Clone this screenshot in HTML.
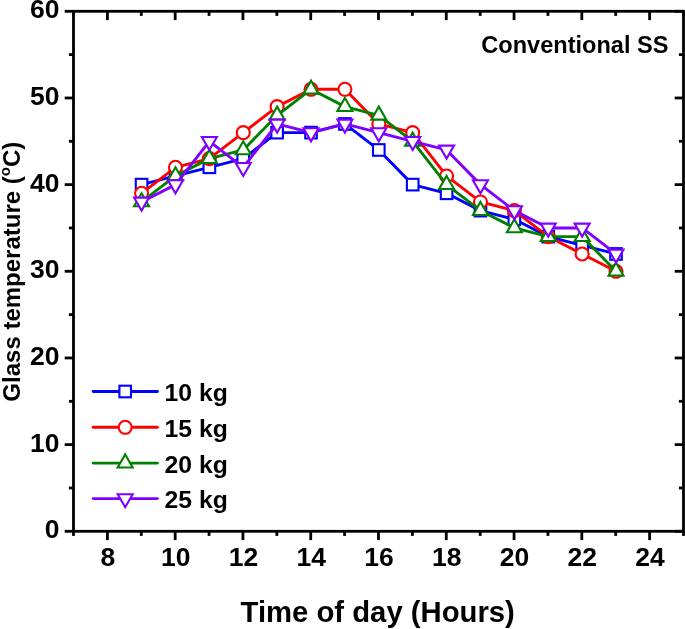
<!DOCTYPE html>
<html><head><meta charset="utf-8"><style>
html,body{margin:0;padding:0;background:#fff;}
body{width:685px;height:629px;overflow:hidden;}
svg{display:block;will-change:transform;}
text{font-family:"Liberation Sans",sans-serif;font-weight:bold;fill:#000;}
</style></head><body>
<svg width="685" height="629" viewBox="0 0 685 629">
<g>
<polyline points="141.58,184.63 175.47,175.97 209.36,167.30 243.24,158.63 277.13,132.63 311.02,132.63 344.91,123.97 378.80,149.97 412.69,184.63 446.58,193.30 480.47,210.63 514.36,219.30 548.24,236.63 582.13,245.30 616.02,253.97" fill="none" stroke="#0000FF" stroke-width="2.9" stroke-linejoin="round" stroke-linecap="round"/>
<rect x="135.78" y="178.83" width="11.6" height="11.6" fill="#fff" stroke="#0000FF" stroke-width="2.1"/>
<rect x="169.67" y="170.17" width="11.6" height="11.6" fill="#fff" stroke="#0000FF" stroke-width="2.1"/>
<rect x="203.56" y="161.50" width="11.6" height="11.6" fill="#fff" stroke="#0000FF" stroke-width="2.1"/>
<rect x="237.44" y="152.83" width="11.6" height="11.6" fill="#fff" stroke="#0000FF" stroke-width="2.1"/>
<rect x="271.33" y="126.83" width="11.6" height="11.6" fill="#fff" stroke="#0000FF" stroke-width="2.1"/>
<rect x="305.22" y="126.83" width="11.6" height="11.6" fill="#fff" stroke="#0000FF" stroke-width="2.1"/>
<rect x="339.11" y="118.17" width="11.6" height="11.6" fill="#fff" stroke="#0000FF" stroke-width="2.1"/>
<rect x="373.00" y="144.17" width="11.6" height="11.6" fill="#fff" stroke="#0000FF" stroke-width="2.1"/>
<rect x="406.89" y="178.83" width="11.6" height="11.6" fill="#fff" stroke="#0000FF" stroke-width="2.1"/>
<rect x="440.78" y="187.50" width="11.6" height="11.6" fill="#fff" stroke="#0000FF" stroke-width="2.1"/>
<rect x="474.67" y="204.83" width="11.6" height="11.6" fill="#fff" stroke="#0000FF" stroke-width="2.1"/>
<rect x="508.56" y="213.50" width="11.6" height="11.6" fill="#fff" stroke="#0000FF" stroke-width="2.1"/>
<rect x="542.44" y="230.83" width="11.6" height="11.6" fill="#fff" stroke="#0000FF" stroke-width="2.1"/>
<rect x="576.33" y="239.50" width="11.6" height="11.6" fill="#fff" stroke="#0000FF" stroke-width="2.1"/>
<rect x="610.22" y="248.17" width="11.6" height="11.6" fill="#fff" stroke="#0000FF" stroke-width="2.1"/>
<polyline points="141.58,193.30 175.47,167.30 209.36,158.63 243.24,132.63 277.13,106.63 311.02,89.30 344.91,89.30 378.80,123.97 412.69,132.63 446.58,175.97 480.47,201.97 514.36,210.63 548.24,236.63 582.13,253.97 616.02,271.30" fill="none" stroke="#FF0000" stroke-width="2.9" stroke-linejoin="round" stroke-linecap="round"/>
<circle cx="141.58" cy="193.30" r="6.5" fill="#fff" stroke="#FF0000" stroke-width="2.1"/>
<circle cx="175.47" cy="167.30" r="6.5" fill="#fff" stroke="#FF0000" stroke-width="2.1"/>
<circle cx="209.36" cy="158.63" r="6.5" fill="#fff" stroke="#FF0000" stroke-width="2.1"/>
<circle cx="243.24" cy="132.63" r="6.5" fill="#fff" stroke="#FF0000" stroke-width="2.1"/>
<circle cx="277.13" cy="106.63" r="6.5" fill="#fff" stroke="#FF0000" stroke-width="2.1"/>
<circle cx="311.02" cy="89.30" r="6.5" fill="#fff" stroke="#FF0000" stroke-width="2.1"/>
<circle cx="344.91" cy="89.30" r="6.5" fill="#fff" stroke="#FF0000" stroke-width="2.1"/>
<circle cx="378.80" cy="123.97" r="6.5" fill="#fff" stroke="#FF0000" stroke-width="2.1"/>
<circle cx="412.69" cy="132.63" r="6.5" fill="#fff" stroke="#FF0000" stroke-width="2.1"/>
<circle cx="446.58" cy="175.97" r="6.5" fill="#fff" stroke="#FF0000" stroke-width="2.1"/>
<circle cx="480.47" cy="201.97" r="6.5" fill="#fff" stroke="#FF0000" stroke-width="2.1"/>
<circle cx="514.36" cy="210.63" r="6.5" fill="#fff" stroke="#FF0000" stroke-width="2.1"/>
<circle cx="548.24" cy="236.63" r="6.5" fill="#fff" stroke="#FF0000" stroke-width="2.1"/>
<circle cx="582.13" cy="253.97" r="6.5" fill="#fff" stroke="#FF0000" stroke-width="2.1"/>
<circle cx="616.02" cy="271.30" r="6.5" fill="#fff" stroke="#FF0000" stroke-width="2.1"/>
<polyline points="141.58,201.97 175.47,175.97 209.36,158.63 243.24,149.97 277.13,115.30 311.02,89.30 344.91,106.63 378.80,115.30 412.69,141.30 446.58,184.63 480.47,210.63 514.36,227.97 548.24,236.63 582.13,236.63 616.02,271.30" fill="none" stroke="#008000" stroke-width="2.9" stroke-linejoin="round" stroke-linecap="round"/>
<path d="M141.58 193.31L149.08 206.30L134.08 206.30Z" fill="#fff" stroke="#008000" stroke-width="2.1"/>
<path d="M175.47 167.31L182.97 180.30L167.97 180.30Z" fill="#fff" stroke="#008000" stroke-width="2.1"/>
<path d="M209.36 149.97L216.86 162.96L201.86 162.96Z" fill="#fff" stroke="#008000" stroke-width="2.1"/>
<path d="M243.24 141.31L250.74 154.30L235.74 154.30Z" fill="#fff" stroke="#008000" stroke-width="2.1"/>
<path d="M277.13 106.64L284.63 119.63L269.63 119.63Z" fill="#fff" stroke="#008000" stroke-width="2.1"/>
<path d="M311.02 80.64L318.52 93.63L303.52 93.63Z" fill="#fff" stroke="#008000" stroke-width="2.1"/>
<path d="M344.91 97.97L352.41 110.96L337.41 110.96Z" fill="#fff" stroke="#008000" stroke-width="2.1"/>
<path d="M378.80 106.64L386.30 119.63L371.30 119.63Z" fill="#fff" stroke="#008000" stroke-width="2.1"/>
<path d="M412.69 132.64L420.19 145.63L405.19 145.63Z" fill="#fff" stroke="#008000" stroke-width="2.1"/>
<path d="M446.58 175.97L454.08 188.96L439.08 188.96Z" fill="#fff" stroke="#008000" stroke-width="2.1"/>
<path d="M480.47 201.97L487.97 214.96L472.97 214.96Z" fill="#fff" stroke="#008000" stroke-width="2.1"/>
<path d="M514.36 219.31L521.86 232.30L506.86 232.30Z" fill="#fff" stroke="#008000" stroke-width="2.1"/>
<path d="M548.24 227.97L555.74 240.96L540.74 240.96Z" fill="#fff" stroke="#008000" stroke-width="2.1"/>
<path d="M582.13 227.97L589.63 240.96L574.63 240.96Z" fill="#fff" stroke="#008000" stroke-width="2.1"/>
<path d="M616.02 262.64L623.52 275.63L608.52 275.63Z" fill="#fff" stroke="#008000" stroke-width="2.1"/>
<polyline points="141.58,201.97 175.47,184.63 209.36,141.30 243.24,167.30 277.13,123.97 311.02,132.63 344.91,123.97 378.80,132.63 412.69,141.30 446.58,149.97 480.47,184.63 514.36,210.63 548.24,227.97 582.13,227.97 616.02,253.97" fill="none" stroke="#8000FF" stroke-width="2.9" stroke-linejoin="round" stroke-linecap="round"/>
<path d="M134.08 197.64L149.08 197.64L141.58 210.63Z" fill="#fff" stroke="#8000FF" stroke-width="2.1"/>
<path d="M167.97 180.30L182.97 180.30L175.47 193.29Z" fill="#fff" stroke="#8000FF" stroke-width="2.1"/>
<path d="M201.86 136.97L216.86 136.97L209.36 149.96Z" fill="#fff" stroke="#8000FF" stroke-width="2.1"/>
<path d="M235.74 162.97L250.74 162.97L243.24 175.96Z" fill="#fff" stroke="#8000FF" stroke-width="2.1"/>
<path d="M269.63 119.64L284.63 119.64L277.13 132.63Z" fill="#fff" stroke="#8000FF" stroke-width="2.1"/>
<path d="M303.52 128.30L318.52 128.30L311.02 141.29Z" fill="#fff" stroke="#8000FF" stroke-width="2.1"/>
<path d="M337.41 119.64L352.41 119.64L344.91 132.63Z" fill="#fff" stroke="#8000FF" stroke-width="2.1"/>
<path d="M371.30 128.30L386.30 128.30L378.80 141.29Z" fill="#fff" stroke="#8000FF" stroke-width="2.1"/>
<path d="M405.19 136.97L420.19 136.97L412.69 149.96Z" fill="#fff" stroke="#8000FF" stroke-width="2.1"/>
<path d="M439.08 145.64L454.08 145.64L446.58 158.63Z" fill="#fff" stroke="#8000FF" stroke-width="2.1"/>
<path d="M472.97 180.30L487.97 180.30L480.47 193.29Z" fill="#fff" stroke="#8000FF" stroke-width="2.1"/>
<path d="M506.86 206.30L521.86 206.30L514.36 219.29Z" fill="#fff" stroke="#8000FF" stroke-width="2.1"/>
<path d="M540.74 223.64L555.74 223.64L548.24 236.63Z" fill="#fff" stroke="#8000FF" stroke-width="2.1"/>
<path d="M574.63 223.64L589.63 223.64L582.13 236.63Z" fill="#fff" stroke="#8000FF" stroke-width="2.1"/>
<path d="M608.52 249.64L623.52 249.64L616.02 262.63Z" fill="#fff" stroke="#8000FF" stroke-width="2.1"/>
</g>
<g stroke="#000" stroke-width="2.8" stroke-linecap="butt">
<rect x="73.5" y="11.3" width="610.0" height="520.0" fill="none" stroke="#000" stroke-width="2.8"/>
<line x1="73.50" y1="531.3" x2="73.50" y2="535.9"/>
<line x1="73.50" y1="11.3" x2="73.50" y2="15.9"/>
<line x1="107.39" y1="531.3" x2="107.39" y2="540.0999999999999"/>
<line x1="107.39" y1="11.3" x2="107.39" y2="20.1"/>
<line x1="141.28" y1="531.3" x2="141.28" y2="535.9"/>
<line x1="141.28" y1="11.3" x2="141.28" y2="15.9"/>
<line x1="175.17" y1="531.3" x2="175.17" y2="540.0999999999999"/>
<line x1="175.17" y1="11.3" x2="175.17" y2="20.1"/>
<line x1="209.06" y1="531.3" x2="209.06" y2="535.9"/>
<line x1="209.06" y1="11.3" x2="209.06" y2="15.9"/>
<line x1="242.94" y1="531.3" x2="242.94" y2="540.0999999999999"/>
<line x1="242.94" y1="11.3" x2="242.94" y2="20.1"/>
<line x1="276.83" y1="531.3" x2="276.83" y2="535.9"/>
<line x1="276.83" y1="11.3" x2="276.83" y2="15.9"/>
<line x1="310.72" y1="531.3" x2="310.72" y2="540.0999999999999"/>
<line x1="310.72" y1="11.3" x2="310.72" y2="20.1"/>
<line x1="344.61" y1="531.3" x2="344.61" y2="535.9"/>
<line x1="344.61" y1="11.3" x2="344.61" y2="15.9"/>
<line x1="378.50" y1="531.3" x2="378.50" y2="540.0999999999999"/>
<line x1="378.50" y1="11.3" x2="378.50" y2="20.1"/>
<line x1="412.39" y1="531.3" x2="412.39" y2="535.9"/>
<line x1="412.39" y1="11.3" x2="412.39" y2="15.9"/>
<line x1="446.28" y1="531.3" x2="446.28" y2="540.0999999999999"/>
<line x1="446.28" y1="11.3" x2="446.28" y2="20.1"/>
<line x1="480.17" y1="531.3" x2="480.17" y2="535.9"/>
<line x1="480.17" y1="11.3" x2="480.17" y2="15.9"/>
<line x1="514.06" y1="531.3" x2="514.06" y2="540.0999999999999"/>
<line x1="514.06" y1="11.3" x2="514.06" y2="20.1"/>
<line x1="547.94" y1="531.3" x2="547.94" y2="535.9"/>
<line x1="547.94" y1="11.3" x2="547.94" y2="15.9"/>
<line x1="581.83" y1="531.3" x2="581.83" y2="540.0999999999999"/>
<line x1="581.83" y1="11.3" x2="581.83" y2="20.1"/>
<line x1="615.72" y1="531.3" x2="615.72" y2="535.9"/>
<line x1="615.72" y1="11.3" x2="615.72" y2="15.9"/>
<line x1="649.61" y1="531.3" x2="649.61" y2="540.0999999999999"/>
<line x1="649.61" y1="11.3" x2="649.61" y2="20.1"/>
<line x1="683.50" y1="531.3" x2="683.50" y2="535.9"/>
<line x1="683.50" y1="11.3" x2="683.50" y2="15.9"/>
<line x1="73.5" y1="531.30" x2="64.7" y2="531.30"/>
<line x1="683.5" y1="531.30" x2="674.7" y2="531.30"/>
<line x1="73.5" y1="487.97" x2="68.9" y2="487.97"/>
<line x1="683.5" y1="487.97" x2="678.9" y2="487.97"/>
<line x1="73.5" y1="444.63" x2="64.7" y2="444.63"/>
<line x1="683.5" y1="444.63" x2="674.7" y2="444.63"/>
<line x1="73.5" y1="401.30" x2="68.9" y2="401.30"/>
<line x1="683.5" y1="401.30" x2="678.9" y2="401.30"/>
<line x1="73.5" y1="357.97" x2="64.7" y2="357.97"/>
<line x1="683.5" y1="357.97" x2="674.7" y2="357.97"/>
<line x1="73.5" y1="314.63" x2="68.9" y2="314.63"/>
<line x1="683.5" y1="314.63" x2="678.9" y2="314.63"/>
<line x1="73.5" y1="271.30" x2="64.7" y2="271.30"/>
<line x1="683.5" y1="271.30" x2="674.7" y2="271.30"/>
<line x1="73.5" y1="227.97" x2="68.9" y2="227.97"/>
<line x1="683.5" y1="227.97" x2="678.9" y2="227.97"/>
<line x1="73.5" y1="184.63" x2="64.7" y2="184.63"/>
<line x1="683.5" y1="184.63" x2="674.7" y2="184.63"/>
<line x1="73.5" y1="141.30" x2="68.9" y2="141.30"/>
<line x1="683.5" y1="141.30" x2="678.9" y2="141.30"/>
<line x1="73.5" y1="97.97" x2="64.7" y2="97.97"/>
<line x1="683.5" y1="97.97" x2="674.7" y2="97.97"/>
<line x1="73.5" y1="54.63" x2="68.9" y2="54.63"/>
<line x1="683.5" y1="54.63" x2="678.9" y2="54.63"/>
<line x1="73.5" y1="11.30" x2="64.7" y2="11.30"/>
<line x1="683.5" y1="11.30" x2="674.7" y2="11.30"/>
</g>
<g font-size="25">
<text transform="translate(59.4 538.20) scale(1.06 1)" text-anchor="end">0</text>
<text transform="translate(59.4 451.53) scale(1.06 1)" text-anchor="end">10</text>
<text transform="translate(59.4 364.87) scale(1.06 1)" text-anchor="end">20</text>
<text transform="translate(59.4 278.20) scale(1.06 1)" text-anchor="end">30</text>
<text transform="translate(59.4 191.53) scale(1.06 1)" text-anchor="end">40</text>
<text transform="translate(59.4 104.87) scale(1.06 1)" text-anchor="end">50</text>
<text transform="translate(59.4 18.20) scale(1.06 1)" text-anchor="end">60</text>
<text transform="translate(107.89 565.6) scale(1.06 1)" text-anchor="middle">8</text>
<text transform="translate(175.67 565.6) scale(1.06 1)" text-anchor="middle">10</text>
<text transform="translate(243.44 565.6) scale(1.06 1)" text-anchor="middle">12</text>
<text transform="translate(311.22 565.6) scale(1.06 1)" text-anchor="middle">14</text>
<text transform="translate(379.00 565.6) scale(1.06 1)" text-anchor="middle">16</text>
<text transform="translate(446.78 565.6) scale(1.06 1)" text-anchor="middle">18</text>
<text transform="translate(514.56 565.6) scale(1.06 1)" text-anchor="middle">20</text>
<text transform="translate(582.33 565.6) scale(1.06 1)" text-anchor="middle">22</text>
<text transform="translate(650.11 565.6) scale(1.06 1)" text-anchor="middle">24</text>
</g>
<g font-size="24">
<line x1="93.2" y1="391.5" x2="157.4" y2="391.5" stroke="#0000FF" stroke-width="2.9" stroke-linecap="round"/>
<rect x="119.40" y="385.70" width="11.6" height="11.6" fill="#fff" stroke="#0000FF" stroke-width="2.1"/>
<text transform="translate(164.6 401.30) scale(1.03 1)">10 kg</text>
<line x1="93.2" y1="427.3" x2="157.4" y2="427.3" stroke="#FF0000" stroke-width="2.9" stroke-linecap="round"/>
<circle cx="125.20" cy="427.30" r="6.5" fill="#fff" stroke="#FF0000" stroke-width="2.1"/>
<text transform="translate(164.6 437.10) scale(1.03 1)">15 kg</text>
<line x1="93.2" y1="463.1" x2="157.4" y2="463.1" stroke="#008000" stroke-width="2.9" stroke-linecap="round"/>
<path d="M125.20 454.44L132.70 467.43L117.70 467.43Z" fill="#fff" stroke="#008000" stroke-width="2.1"/>
<text transform="translate(164.6 472.90) scale(1.03 1)">20 kg</text>
<line x1="93.2" y1="498.6" x2="157.4" y2="498.6" stroke="#8000FF" stroke-width="2.9" stroke-linecap="round"/>
<path d="M117.70 494.27L132.70 494.27L125.20 507.26Z" fill="#fff" stroke="#8000FF" stroke-width="2.1"/>
<text transform="translate(164.6 508.40) scale(1.03 1)">25 kg</text>
</g>
<text transform="translate(481.3 53.2) scale(0.982 1)" font-size="24">Conventional SS</text>
<text transform="translate(377.7 621.6) scale(0.993 1)" font-size="29.5" text-anchor="middle">Time of day (Hours)</text>
<text transform="translate(20.2 271.7) rotate(-90)" font-size="24" text-anchor="middle">Glass temperature (<tspan font-size="15" dy="-10.2">o</tspan><tspan dy="10.2">C)</tspan></text>
</svg>
</body></html>
